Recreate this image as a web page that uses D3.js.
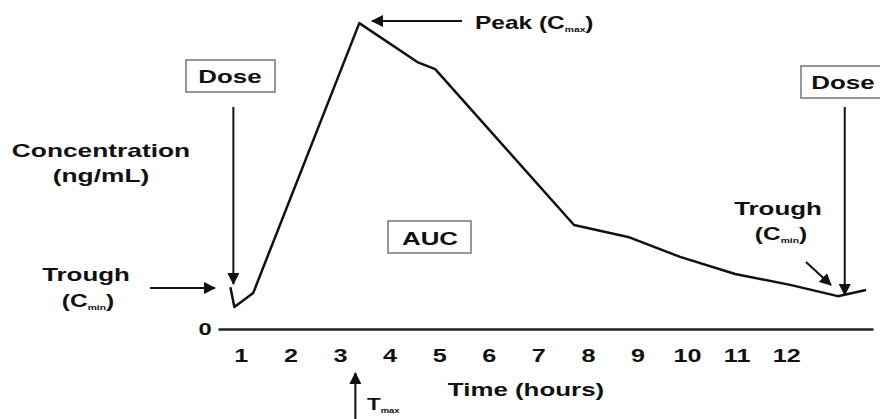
<!DOCTYPE html>
<html>
<head>
<meta charset="utf-8">
<script src="https://cdn.jsdelivr.net/npm/d3@7"></script>
<style>
  html, body { margin: 0; padding: 0; background: #fff; }
  svg { display: block; }
  text { font-family: "Liberation Sans", Arial, sans-serif; font-weight: bold; fill: #111; }
</style>
</head>
<body>
<script>
'use strict';

// concentration-time curve (time in hours, concentration in arbitrary units 0-100)
var timeHours = [0.78, 0.86, 1.24, 3.38, 4.55, 4.91, 7.71, 8.80, 9.85, 10.96, 12.07, 13.03, 13.60];
var concentration = [13.0, 6.8, 11.2, 95.0, 82.9, 80.7, 32.3, 28.6, 22.4, 17.1, 13.7, 10.2, 12.1];

var tickHours = [1, 2, 3, 4, 5, 6, 7, 8, 9, 10, 11, 12];
var doseTimes = [0.84, 13.17];
var tmaxTime = 3.3;

var W = 880, H = 419;
var SX = 1.4; // glyphs in the picture are stretched sideways

var svg = d3.select('body').append('svg')
    .attr('width', W)
    .attr('height', H);

var x = d3.scaleLinear().domain([0.53, 13.74]).range([218, 873]);
var y = d3.scaleLinear().domain([0, 100]).range([329, 7]);

var defs = svg.append('defs');
defs.append('marker')
    .attr('id', 'head')
    .attr('viewBox', '0 0 12 12')
    .attr('refX', 11)
    .attr('refY', 6)
    .attr('markerWidth', 12)
    .attr('markerHeight', 12)
    .attr('markerUnits', 'userSpaceOnUse')
    .attr('orient', 'auto')
  .append('path')
    .attr('d', 'M0,0 L12,6 L0,12 Z')
    .attr('fill', '#111');

// stretched bold label; parts = [[text, small?, raise?], ...]
function label(px, py, parts, size, anchor) {
    var g = svg.append('g')
        .attr('transform', 'translate(' + px + ',' + py + ') scale(' + SX + ',1)');
    var t = g.append('text')
        .attr('font-size', size)
        .attr('text-anchor', anchor || 'middle');
    parts.forEach(function(p) {
        var ts = t.append('tspan').text(p[0]);
        if(p[1]) ts.attr('font-size', size * 0.42).attr('dy', 3);
        else if(p[2]) ts.attr('dy', -3);
    });
    return g;
}

function box(x0, y0, w, h) {
    svg.append('rect')
        .attr('x', x0).attr('y', y0)
        .attr('width', w).attr('height', h)
        .attr('fill', '#fff')
        .attr('stroke', '#777')
        .attr('stroke-width', 1.5);
}

function arrow(x1, y1, x2, y2) {
    svg.append('line')
        .attr('x1', x1).attr('y1', y1)
        .attr('x2', x2).attr('y2', y2)
        .attr('stroke', '#111')
        .attr('stroke-width', 2)
        .attr('marker-end', 'url(#head)');
}

// x axis
var xAxis = d3.axisBottom(x)
    .tickValues(tickHours)
    .tickSize(0)
    .tickSizeOuter(0)
    .tickPadding(0)
    .tickFormat(function() { return ''; });

var axisG = svg.append('g')
    .attr('transform', 'translate(0,' + y(0) + ')')
    .call(xAxis);
axisG.select('.domain')
    .attr('stroke', '#222')
    .attr('stroke-width', 2.5);

tickHours.forEach(function(h) {
    label(x(h), 362, [[String(h)]], 18);
});

label(205, 335, [['0']], 17);
label(526, 396, [['Time (hours)']], 18.5);

// curve
var line = d3.line()
    .x(function(d, i) { return x(timeHours[i]); })
    .y(function(d) { return y(d); });

svg.append('path')
    .datum(concentration)
    .attr('d', line)
    .attr('fill', 'none')
    .attr('stroke', '#111')
    .attr('stroke-width', 2.5)
    .attr('stroke-linejoin', 'round');

// y label
label(101, 157, [['Concentration']], 18.8);
label(101, 182, [['(ng/mL)']], 18.8);

// dose markers
box(186, 60, 89, 32);
label(230, 83, [['Dose']], 18.5);
arrow(x(doseTimes[0]), 107, x(doseTimes[0]), 284);

box(801, 66, 80, 32);
label(843, 89, [['Dose']], 18.5);
arrow(x(doseTimes[1]), 107, x(doseTimes[1]), 295);

// peak
arrow(462, 21, 372, 21);
label(475, 29, [['Peak (C'], ['max', true], [')', false, true]], 17.5, 'start');

// troughs
label(86, 281, [['Trough']], 18.5);
label(88, 307, [['(C'], ['min', true], [')', false, true]], 17.5);
arrow(150, 288, 215, 288);

label(778, 215, [['Trough']], 18.5);
label(781, 240, [['(C'], ['min', true], [')', false, true]], 17.5);
arrow(806, 262, 831, 285);

// AUC
box(388, 221, 83, 32);
label(430, 245, [['AUC']], 18.5);

// Tmax
arrow(x(tmaxTime), 419, x(tmaxTime), 373);
label(367, 410, [['T'], ['max', true]], 16, 'start');
</script>
</body>
</html>
